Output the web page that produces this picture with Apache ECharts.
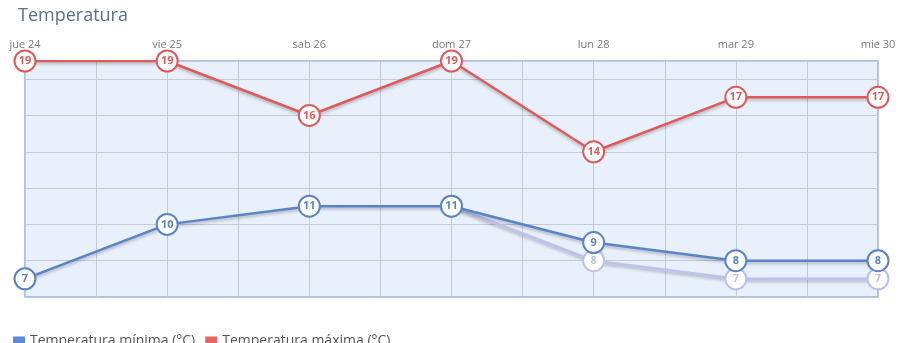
<!DOCTYPE html>
<html>
<head>
<meta charset="utf-8">
<script src="https://cdn.jsdelivr.net/npm/echarts@6/dist/echarts.min.js"></script>
<style>
  html, body { margin: 0; padding: 0; background: #fff; }
  #chart { width: 900px; height: 343px; }
</style>
</head>
<body>
<div id="chart"></div>
<script>
// days shown on the top axis
var days = ['jue 24', 'vie 25', 'sab 26', 'dom 27', 'lun 28', 'mar 29', 'mie 30']
var tempMax = [19, 19, 16, 19, 14, 17, 17]
var tempMin = [7, 10, 11, 11, 9, 8, 8]
// older forecast of the minimum, starts at dom 27
var tempMinPrev = [null, null, null, 11, 8, 7, 7]

function pairs (arr) {
  var out = []
  for (var i = 0; i < arr.length; i++) {
    if (arr[i] !== null) out.push([i, arr[i]])
  }
  return out
}

function lineSeries (name, data, color, labelColor, z) {
  return {
    name: name,
    type: 'line',
    data: data,
    z: z,
    symbol: 'circle',
    symbolSize: 21,
    lineStyle: {
      color: color,
      width: 2.5,
      shadowColor: 'rgba(0,0,0,0.25)',
      shadowBlur: 3,
      shadowOffsetY: 2
    },
    itemStyle: {
      color: '#fff',
      borderColor: color,
      borderWidth: 2
    },
    label: {
      show: true,
      position: 'inside',
      color: labelColor,
      fontSize: 11,
      fontWeight: 'bold',
      fontFamily: 'Open Sans',
      formatter: function (p) { return p.value[1] }
    },
    emphasis: { disabled: true },
    animation: false
  }
}

var chart = echarts.init(document.getElementById('chart'))
chart.setOption({
  title: {
    text: 'Temperatura',
    left: 13,
    top: 2,
    textStyle: { fontFamily: 'Open Sans', fontSize: 18, fontWeight: 'normal', color: '#5b708c' }
  },
  legend: {
    bottom: -10,
    left: 8,
    itemWidth: 12,
    itemHeight: 9,
    itemGap: 10,
    icon: 'rect',
    data: [
      { name: 'Temperatura mínima (°C)', itemStyle: { color: '#5b8ad6', borderWidth: 0 } },
      { name: 'Temperatura máxima (°C)', itemStyle: { color: '#e86464', borderWidth: 0 } }
    ],
    textStyle: { fontFamily: 'Open Sans', fontSize: 14, color: '#555' }
  },
  grid: {
    left: 25,
    right: 22,
    top: 61,
    bottom: 46,
    show: true,
    backgroundColor: '#e8f0fb',
    borderColor: '#8fb0e0',
    borderWidth: 1.5
  },
  xAxis: {
    type: 'value',
    position: 'top',
    min: 0,
    max: 6,
    interval: 0.5,
    axisLine: { show: false },
    axisTick: { show: false },
    axisLabel: {
      color: '#7a7a7a',
      fontSize: 11,
      fontFamily: 'Open Sans',
      margin: 11,
      formatter: function (v) { return v % 1 === 0 ? days[v] : '' }
    },
    splitLine: { show: true, lineStyle: { color: '#c3cad8', width: 1 } }
  },
  yAxis: {
    type: 'value',
    min: 6,
    max: 19,
    interval: 2,
    axisLine: { show: false },
    axisTick: { show: false },
    axisLabel: { show: false },
    splitLine: { show: true, lineStyle: { color: '#c3cad8', width: 1 } }
  },
  series: [
    lineSeries('Temperatura mínima previa', pairs(tempMinPrev), '#bcc1ee', '#bcc1ee', 2),
    lineSeries('Temperatura mínima (°C)', pairs(tempMin), '#5a84c6', '#5a84c6', 3),
    lineSeries('Temperatura máxima (°C)', pairs(tempMax), '#e05a5a', '#e05a5a', 4)
  ]
})
</script>
</body>
</html>
